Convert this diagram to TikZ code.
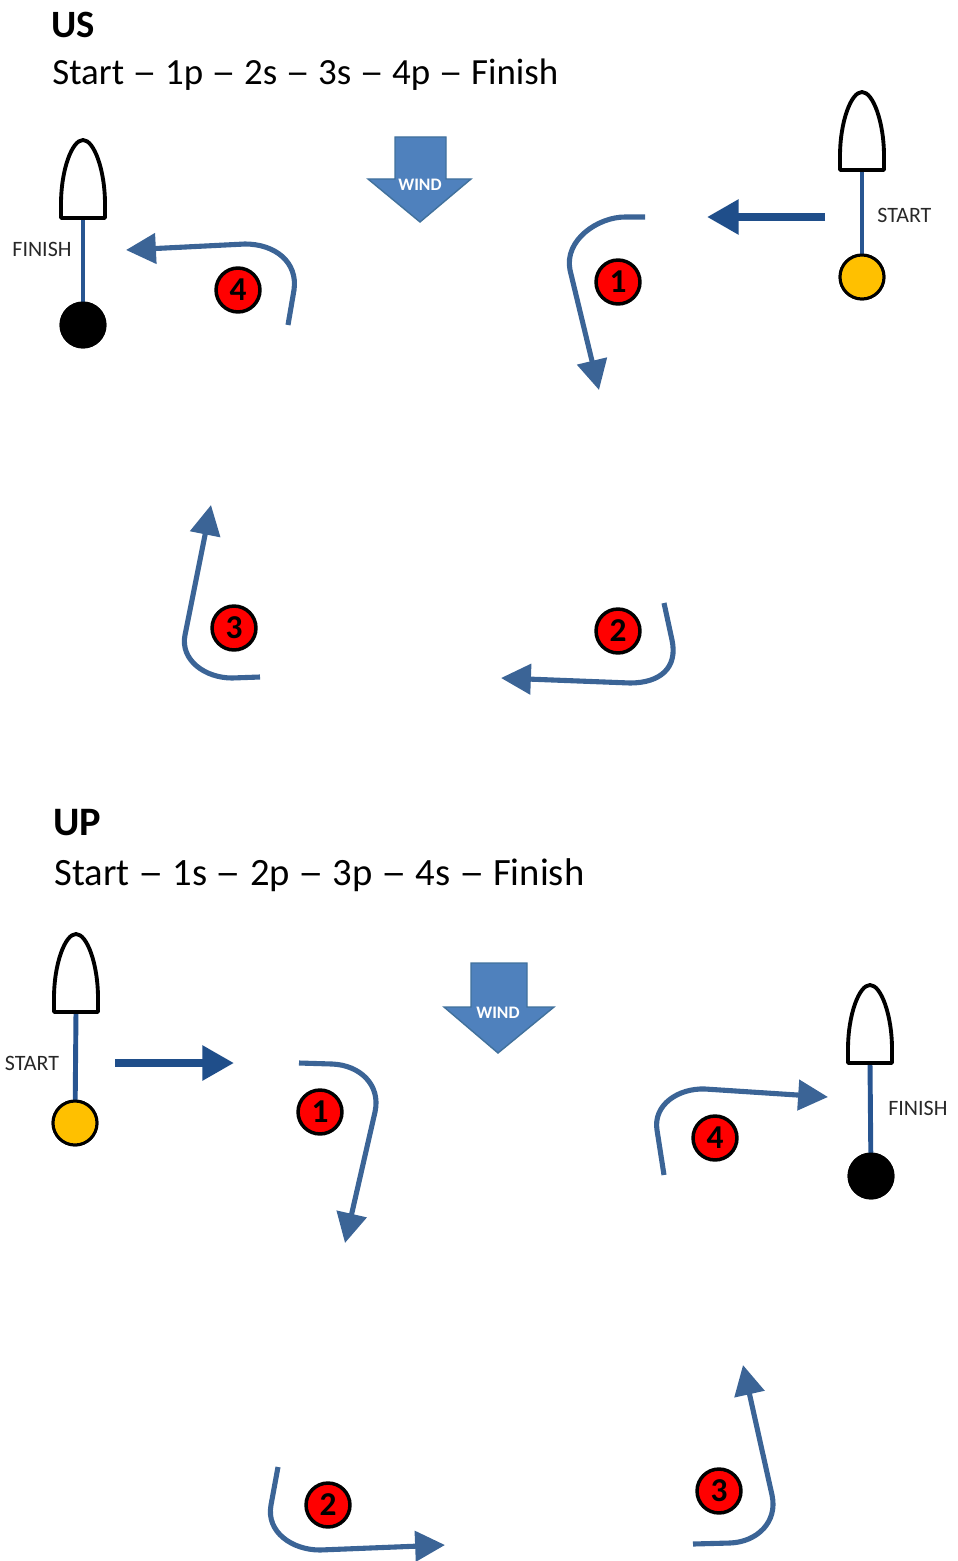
\documentclass[tikz,border=0pt]{standalone}
\usepackage{fontspec}
\setmainfont{Carlito}
\usetikzlibrary{arrows.meta}
\definecolor{navy}{RGB}{31,78,138}
\definecolor{curveblue}{RGB}{59,100,150}
\definecolor{polebl}{RGB}{40,85,145}
\definecolor{windfill}{RGB}{79,129,189}
\definecolor{windline}{RGB}{65,113,156}
\definecolor{markyellow}{RGB}{255,192,0}
\definecolor{labelgray}{RGB}{40,40,40}
\newcommand{\wdash}{\scalebox{1.32}[1]{–}}
\tikzset{
  straightarrow/.style={draw=navy, line width=4.3pt, -{Triangle[length=18pt,width=19pt]}},
  curvearrow/.style={draw=curveblue, line width=2.9pt, -{Triangle[length=17pt,width=17pt]}},
  numbadge/.style={circle, draw=black, fill=red, line width=2pt, minimum size=25pt, inner sep=0pt, font=\fontsize{19}{19}\selectfont\bfseries},
  marklabel/.style={font=\fontsize{12.5}{12.5}\selectfont, text=labelgray, inner sep=0pt},
  buoy/.style={circle, draw=black, line width=1.7pt, minimum size=25pt, inner sep=0pt},
  pole/.style={draw=polebl, line width=2.8pt},
  windarrow/.style={fill=windfill, draw=windline, line width=0.8pt},
  windtext/.style={text=white, font=\fontsize{10}{10}\selectfont\bfseries, inner sep=0pt},
  titletext/.style={anchor=base west, inner sep=0pt, font=\fontsize{22}{22}\selectfont\bfseries},
  subtext/.style={anchor=base west, inner sep=0pt, font=\fontsize{21}{21}\selectfont},
  bullet/.pic={\draw[line width=2.2pt, fill=white, line join=round] (-22,0) -- (-22,-14) .. controls (-22,-48) and (-11,-78) .. (0,-78) .. controls (11,-78) and (22,-48) .. (22,-14) -- (22,0) -- cycle;}
}
\begin{document}
\begin{tikzpicture}[x=0.02cm, y=-0.02cm]
\useasboundingbox (0,0) rectangle (957,1561);
% ===== US =====
\node[titletext] (ustitle) at (51,38) {US};
\node[subtext] (ussub) at (52,85) {Start \wdash{} 1p \wdash{} 2s \wdash{} 3s \wdash{} 4p \wdash{} Finish};
% wind
\draw[windarrow] (395,137) -- (446,137) -- (446,179) -- (471,179) -- (420,222) -- (368,179) -- (395,179) -- cycle;
\node[windtext] (uswind) at (420,185) {WIND};
% finish mark (left)
\coordinate (usfinbase) at (83,218);
\node[buoy, fill=black] (usfinbuoy) at (83,325) {};
\draw[pole] (usfinbase) -- (usfinbuoy.center);
\node[buoy, fill=black] at (83,325) {};
\pic at (usfinbase) {bullet};
\node[marklabel] (usfinlab) at (42,249) {FINISH};
% start mark (right)
\coordinate (usstartbase) at (862,170);
\node[buoy, fill=markyellow] (usstartbuoy) at (862,277) {};
\draw[pole] (usstartbase) -- (usstartbuoy.center);
\node[buoy, fill=markyellow] at (862,277) {};
\pic at (usstartbase) {bullet};
\node[marklabel, anchor=west] (usstartlab) at (877,215) {START};
% straight arrow
\coordinate (usa0) at (825,217);
\coordinate (usa1) at (707,217);
\draw[straightarrow] (usa0) -- (usa1);
% leg 1
\coordinate (usl1a) at (645,217);
\coordinate (usl1b) at (599,390);
\draw[curvearrow] (usl1a) -- (625,217) .. controls (598,217) and (564,240) .. (570,270) -- (usl1b);
% leg 2
\coordinate (usl2a) at (664,603);
\coordinate (usl2b) at (501,678);
\draw[curvearrow] (usl2a) -- (672,640) .. controls (678,668) and (660,683) .. (630,683) -- (usl2b);
% leg 3
\coordinate (usl3a) at (260,677);
\coordinate (usl3b) at (211,505);
\draw[curvearrow] (usl3a) -- (232,678) .. controls (205,678) and (180,660) .. (185,635) -- (usl3b);
% leg 4
\coordinate (usl4a) at (288,325);
\coordinate (usl4b) at (126,250);
\draw[curvearrow] (usl4a) -- (294,290) .. controls (298,262) and (275,244) .. (245,244) -- (usl4b);
% badges
\node[numbadge] (usn1) at (618,282) {1};
\node[numbadge] (usn2) at (618,631) {2};
\node[numbadge] (usn3) at (234,628) {3};
\node[numbadge] (usn4) at (238,290) {4};
% ===== UP =====
\node[titletext, font=\fontsize{23}{23}\selectfont\bfseries] (uptitle) at (53,835) {UP};
\node[subtext, font=\fontsize{22}{22}\selectfont] (upsub) at (54,885) {Start \wdash{} 1s \wdash{} 2p \wdash{} 3p \wdash{} 4s \wdash{} Finish};
% wind
\draw[windarrow] (471,963) -- (527,963) -- (527,1007) -- (554,1007) -- (498,1053) -- (444,1007) -- (471,1007) -- cycle;
\node[windtext] (upwind) at (498,1013) {WIND};
% start mark (left)
\coordinate (upstartbase) at (76,1012);
\node[buoy, fill=markyellow] (upstartbuoy) at (75,1123) {};
\draw[pole] (upstartbase) -- (upstartbuoy.center);
\node[buoy, fill=markyellow] at (75,1123) {};
\pic at (upstartbase) {bullet};
\node[marklabel] (upstartlab) at (32,1063) {START};
% finish mark (right)
\coordinate (upfinbase) at (870,1063);
\node[buoy, fill=black] (upfinbuoy) at (871,1176) {};
\draw[pole] (upfinbase) -- (upfinbuoy.center);
\node[buoy, fill=black] at (871,1176) {};
\pic at (upfinbase) {bullet};
\node[marklabel, anchor=west] (upfinlab) at (888,1108) {FINISH};
% straight arrow
\coordinate (upa0) at (115,1063);
\coordinate (upa1) at (234,1063);
\draw[straightarrow] (upa0) -- (upa1);
% leg 1
\coordinate (upl1a) at (299,1063);
\coordinate (upl1b) at (345,1243);
\draw[curvearrow] (upl1a) -- (332,1064) .. controls (360,1065) and (381,1085) .. (375,1112) -- (upl1b);
% leg 2
\coordinate (upl2a) at (278,1467);
\coordinate (upl2b) at (445,1545);
\draw[curvearrow] (upl2a) -- (271,1505) .. controls (266,1532) and (292,1550) .. (320,1550) -- (upl2b);
% leg 3
\coordinate (upl3a) at (693,1544);
\coordinate (upl3b) at (743,1365);
\draw[curvearrow] (upl3a) -- (730,1543) .. controls (757,1542) and (778,1522) .. (772,1495) -- (upl3b);
% leg 4
\coordinate (upl4a) at (664,1175);
\coordinate (upl4b) at (828,1097);
\draw[curvearrow] (upl4a) -- (657,1130) .. controls (653,1105) and (678,1088) .. (705,1089) -- (upl4b);
% badges
\node[numbadge] (upn1) at (320,1112) {1};
\node[numbadge] (upn2) at (328,1505) {2};
\node[numbadge] (upn3) at (719,1491) {3};
\node[numbadge] (upn4) at (715,1138) {4};
\end{tikzpicture}
\end{document}
